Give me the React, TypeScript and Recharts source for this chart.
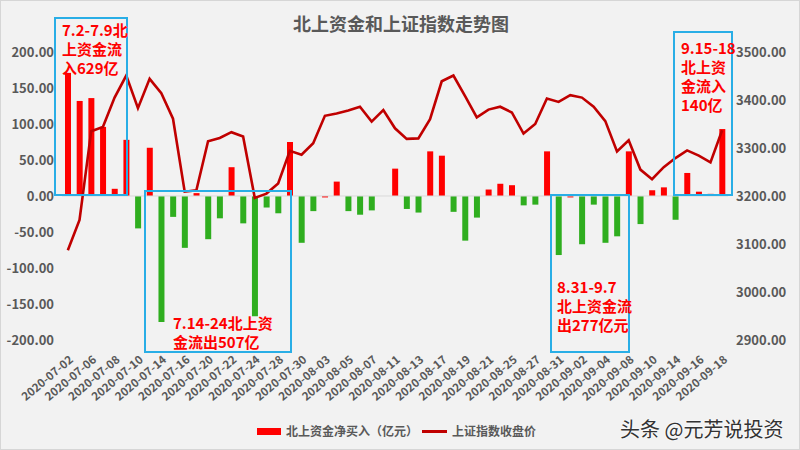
import { ComposedChart, Bar, Line, XAxis, YAxis, ReferenceLine, Cell } from "recharts";

const dates = [
  "2020-07-02", "2020-07-03", "2020-07-06", "2020-07-07", "2020-07-08", "2020-07-09", "2020-07-10",
  "2020-07-13", "2020-07-14", "2020-07-15", "2020-07-16", "2020-07-17", "2020-07-20", "2020-07-21",
  "2020-07-22", "2020-07-23", "2020-07-24", "2020-07-27", "2020-07-28", "2020-07-29", "2020-07-30",
  "2020-07-31", "2020-08-03", "2020-08-04", "2020-08-05", "2020-08-06", "2020-08-07", "2020-08-10",
  "2020-08-11", "2020-08-12", "2020-08-13", "2020-08-14", "2020-08-17", "2020-08-18", "2020-08-19",
  "2020-08-20", "2020-08-21", "2020-08-24", "2020-08-25", "2020-08-26", "2020-08-27", "2020-08-28",
  "2020-08-31", "2020-09-01", "2020-09-02", "2020-09-03", "2020-09-04", "2020-09-07", "2020-09-08",
  "2020-09-09", "2020-09-10", "2020-09-11", "2020-09-14", "2020-09-15", "2020-09-16", "2020-09-17",
  "2020-09-18",
];

// 北上资金净买入（亿元）
const netBuy = [
  171, 132, 136, 96, 10, 78, -45,
  67, -175, -29, -72, 4, -60, -31,
  40, -38, -167, -16, -24, 75, -65,
  -21, -2, 20, -21, -26, -20, 0,
  38, -18, -23, 62, 56, -22, -62,
  -30, 9, 17, 15, -13, -12, 62,
  -82, -2, -67, -12, -65, -56, 62,
  -39, 8, 12, -33, 32, 6, 3,
  93,
];

// 上证指数收盘价
const shIndex = [
  3087, 3150, 3335, 3344, 3405, 3451, 3383,
  3444, 3414, 3361, 3209, 3212, 3314, 3321,
  3333, 3324, 3196, 3205, 3226, 3294, 3286,
  3310, 3367, 3372, 3378, 3386, 3355, 3379,
  3341, 3319, 3320, 3360, 3439, 3451, 3408,
  3364, 3380, 3386, 3374, 3330, 3350, 3403,
  3396, 3410, 3405, 3386, 3356, 3293, 3316,
  3255, 3235, 3260, 3279, 3295, 3284, 3270,
  3337,
];

const leftTicks = [-200, -150, -100, -50, 0, 50, 100, 150, 200];
const rightTicks = [2900, 3000, 3100, 3200, 3300, 3400, 3500];

const data = dates.map((date, i) => ({ date, netBuy: netBuy[i], shIndex: shIndex[i] }));

const FONT = '"Noto Sans CJK SC", "Noto Sans", sans-serif';
const GRAY = "#595959";
const RED = "#ff0000";
const GREEN = "#2fae1f";
const LINE = "#c00000";
const BLUE = "#29aee6";

const DateTick = (props: any) => {
  const { x, y, payload } = props;
  return (
    <g transform={`translate(${x + 6},${y + 13})`}>
      <text
        x={0}
        y={0}
        textAnchor="end"
        transform="rotate(-40)"
        fill={GRAY}
        fontSize={11.5}
        fontWeight="bold"
        fontFamily={FONT}
      >
        {payload.value}
      </text>
    </g>
  );
};

const notes = [
  { box: [55, 18, 72, 177], lines: ["7.2-7.9北", "上资金流", "入629亿"], x: 62, y: 36 },
  { box: [145, 191, 146, 161], lines: ["7.14-24北上资", "金流出507亿"], x: 173, y: 329 },
  { box: [551, 195, 78, 157], lines: ["8.31-9.7", "北上资金流", "出277亿元"], x: 557, y: 293 },
  { box: [674, 32, 58, 163], lines: ["9.15-18", "北上资", "金流入", "140亿"], x: 681, y: 54 },
];

export default function App() {
  return (
    <div
      style={{
        position: "absolute",
        left: 0,
        top: 0,
        width: 800,
        height: 450,
        background: "#f2f2f2",
        fontFamily: FONT,
        boxSizing: "border-box",
        border: "1px solid #d6d6d6",
        overflow: "hidden",
      }}
    >
      <div
        style={{
          position: "absolute",
          top: 9,
          width: 800,
          textAlign: "center",
          fontSize: 18,
          fontWeight: "bold",
          color: GRAY,
          lineHeight: "26px",
        }}
      >
        北上资金和上证指数走势图
      </div>
      <div style={{ position: "absolute", left: -1, top: -1 }}>
        <ComposedChart width={800} height={450} data={data} margin={{ top: 52, right: 0, bottom: 0, left: 0 }}>
          <XAxis
            dataKey="date"
            height={110}
            interval={1}
            axisLine={false}
            tickLine={false}
            tick={<DateTick />}
          />
          <YAxis
            yAxisId="left"
            width={62}
            domain={[-200, 200]}
            ticks={leftTicks}
            axisLine={false}
            tickLine={false}
            tickFormatter={(v) => v.toFixed(2)}
            tick={{ fill: GRAY, fontSize: 13, fontWeight: "bold", fontFamily: FONT }}
          />
          <YAxis
            yAxisId="right"
            orientation="right"
            width={72}
            domain={[2900, 3500]}
            ticks={rightTicks}
            axisLine={false}
            tickLine={false}
            tickFormatter={(v) => v.toFixed(2)}
            tick={{ fill: GRAY, fontSize: 13, fontWeight: "bold", fontFamily: FONT }}
          />
          <ReferenceLine yAxisId="left" y={0} stroke="#d9d9d9" />
          <Bar yAxisId="left" dataKey="netBuy" barSize={6} isAnimationActive={false}>
            {data.map((d, i) => (
              <Cell key={`c-${i}`} fill={d.netBuy >= -2 ? RED : GREEN} />
            ))}
          </Bar>
          <Line
            yAxisId="right"
            dataKey="shIndex"
            stroke={LINE}
            strokeWidth={2.6}
            dot={false}
            isAnimationActive={false}
          />
        </ComposedChart>
      </div>

      <svg width={800} height={450} style={{ position: "absolute", left: -1, top: -1, pointerEvents: "none" }}>
        {notes.map((n, k) => (
          <g key={k}>
            <rect x={n.box[0]} y={n.box[1]} width={n.box[2]} height={n.box[3]} fill="none" stroke={BLUE} strokeWidth={2} />
            <text x={n.x} y={n.y} fill={RED} fontSize={15} fontWeight="bold" fontFamily={FONT}>
              {n.lines.map((t, j) => (
                <tspan key={j} x={n.x} dy={j === 0 ? 0 : 19}>
                  {t}
                </tspan>
              ))}
            </text>
          </g>
        ))}
      </svg>

      <div
        style={{
          position: "absolute",
          top: 421,
          left: 256,
          display: "flex",
          alignItems: "center",
          fontSize: 12,
          fontWeight: "bold",
          color: GRAY,
          lineHeight: "18px",
        }}
      >
        <span style={{ display: "inline-block", width: 24, height: 7, background: RED, marginRight: 5 }} />
        <span>北上资金净买入（亿元）</span>
        <span style={{ display: "inline-block", width: 25, height: 3, background: LINE, margin: "0 5px 0 4px" }} />
        <span>上证指数收盘价</span>
      </div>

      <div
        style={{
          position: "absolute",
          top: 415,
          left: 619,
          fontSize: 20,
          color: "#333333",
          lineHeight: "26px",
          textShadow: "0 0 2px #ffffff, 0 0 2px #ffffff",
        }}
      >
        头条 @元芳说投资
      </div>
    </div>
  );
}
